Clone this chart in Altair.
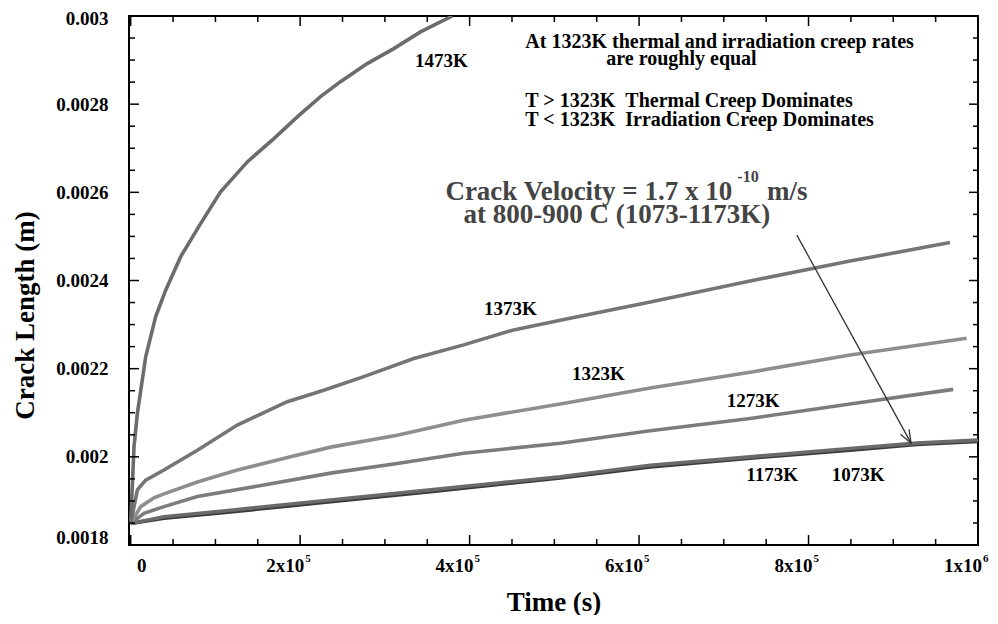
import altair as alt
import pandas as pd

FONT = "Liberation Serif"

# ---------------- data ----------------
series_names = ["1073K", "1173K", "1273K", "1323K", "1373K", "1473K"]
series_colors = ["#3a3a3a", "#6a6a6a", "#7c7c7c", "#8e8e8e", "#757575", "#6c6c6c"]

t_1473 = [0, 3900, 7900, 17700, 29500, 41300, 59000, 82500, 106100, 137600,
          169000, 196600, 224000, 247600, 279100, 310500, 342000, 379700]
v_1473 = [0.001849, 0.002023, 0.002099, 0.002227, 0.002318, 0.002378, 0.002454,
          0.002529, 0.002601, 0.002669, 0.002722, 0.002771, 0.002817, 0.002851,
          0.002892, 0.002926, 0.002964, 0.003000]

t_1373 = [0, 7900, 17700, 39300, 78700, 125800, 184800, 227900, 275100, 334100,
          393000, 452000, 507000, 613200, 731100, 849000, 966900]
v_1373 = [0.001849, 0.001925, 0.001947, 0.001970, 0.002015, 0.002072, 0.002125,
          0.002151, 0.002182, 0.002223, 0.002254, 0.002288, 0.002310, 0.002351,
          0.002399, 0.002444, 0.002486]

t_1323 = [0, 11800, 27500, 39300, 78700, 125800, 188700, 235900, 314500, 393000,
          507000, 613200, 731100, 849000, 986600]
v_1323 = [0.001849, 0.001887, 0.001907, 0.001916, 0.001943, 0.001970, 0.002000,
          0.002022, 0.002049, 0.002083, 0.002120, 0.002156, 0.002192, 0.002231,
          0.002269]

t_1273 = [0, 15700, 39300, 78700, 157200, 235900, 314500, 393000, 507000, 613200,
          731100, 849000, 970800]
v_1273 = [0.001849, 0.001872, 0.001887, 0.001910, 0.001936, 0.001963, 0.001985,
          0.002008, 0.002031, 0.002059, 0.002087, 0.002120, 0.002153]

t_1173 = [0, 39300, 117900, 235800, 353800, 507000, 613200, 731100, 849000,
          927700, 1000000]
v_1173 = [0.001849, 0.001864, 0.001879, 0.001902, 0.001925, 0.001955, 0.001981,
          0.002000, 0.002019, 0.002031, 0.002038]

t_1073 = [0, 39300, 117900, 235800, 353800, 507000, 613200, 731100, 849000,
          927700, 1000000]
v_1073 = [0.001849, 0.001861, 0.001875, 0.001898, 0.001921, 0.001952, 0.001977,
          0.001997, 0.002015, 0.002028, 0.002035]

# curve labels
lab_text = ["1473K", "1373K", "1323K", "1273K", "1173K", "1073K"]
lab_t = [366700, 448100, 551900, 734600, 757000, 858500]
lab_v = [0.0028846, 0.0023215, 0.0021742, 0.0021122, 0.0019458, 0.0019458]

# notes (top right)
note_text = ["At 1323K thermal and irradiation creep rates",
             "are roughly equal",
             "T > 1323K\u00a0\u00a0Thermal Creep Dominates",
             "T < 1323K\u00a0\u00a0Irradiation Creep Dominates"]
note_t = [465800, 561300, 465800, 465800]
note_v = [0.0029263, 0.0028884, 0.0027925, 0.0027501]

# velocity annotation
vel_text = ["Crack Velocity = 1.7 x 10", "m/s", "at 800-900 C (1073-1173K)"]
vel_t = [371400, 750900, 392700]
vel_v = [0.0025823, 0.0025823, 0.0025302]
sup_text = ["-10"]
sup_t = [716000]
sup_v = [0.0026231]

# arrow
arrow_t = [786200, 921000]
arrow_v = [0.002503, 0.002031]

# axes
y_major = [0.0018, 0.002, 0.0022, 0.0024, 0.0026, 0.0028, 0.003]
y_minor = [0.00185, 0.0019, 0.00195, 0.00205, 0.0021, 0.00215, 0.00225, 0.0023,
           0.00235, 0.00245, 0.0025, 0.00255, 0.00265, 0.0027, 0.00275, 0.00285,
           0.0029, 0.00295]
x_major = [0, 200000, 400000, 600000, 800000, 1000000]
x_minor = [50000, 100000, 150000, 250000, 300000, 350000, 450000, 500000, 550000,
           650000, 700000, 750000, 850000, 900000, 950000]
x_lab_base = ["2x10", "4x10", "6x10", "8x10", "1x10"]
x_lab_exp = ["5", "5", "5", "5", "6"]
x_lab_vals = [200000, 400000, 600000, 800000, 1000000]
x_zero_lab = ["0"]
x_zero_val = [0]

# ---------------- chart ----------------
W, H = 849, 529
xs = alt.Scale(domain=[-2000, 1000000], nice=False, zero=False)
ys = alt.Scale(domain=[0.0018, 0.003], nice=False, zero=False)

rows = []
for name, ts, vs in [("1073K", t_1073, v_1073), ("1173K", t_1173, v_1173),
                     ("1273K", t_1273, v_1273), ("1323K", t_1323, v_1323),
                     ("1373K", t_1373, v_1373), ("1473K", t_1473, v_1473)]:
    for t, v in zip(ts, vs):
        rows.append({"series": name, "t": t, "v": v})
df = pd.DataFrame(rows)

x_axis = alt.Axis(values=[0], labels=False, ticks=False, domain=False, grid=False,
                  title="Time (s)", titleFont=FONT, titleFontSize=27,
                  titleFontWeight="bold", titleColor="black", titleY=65,
                  titleBaseline="alphabetic")
y_axis = alt.Axis(values=y_major, format=".4~f", labelFont=FONT, labelFontSize=19,
                  labelFontWeight="bold", labelColor="black", labelPadding=21,
                  labelBaseline="middle", labelOverlap=False,
                  labelOffset={"condition": [
                      {"test": "datum.value < 0.00181", "value": -8},
                      {"test": "datum.value > 0.00299", "value": 2}], "value": 0},
                  ticks=False, tickSize=0, domain=False, grid=False,
                  title="Crack Length (m)", titleFont=FONT, titleFontSize=27,
                  titleFontWeight="bold", titleColor="black", titleAngle=270,
                  titleX=-96, titleY=299, titleAlign="center",
                  titleBaseline="alphabetic")


def X(field="t"):
    return alt.X(f"{field}:Q", scale=xs, axis=x_axis)


def Y(field="v"):
    return alt.Y(f"{field}:Q", scale=ys, axis=y_axis)


lines = alt.Chart(df).mark_line(strokeWidth=3.6, clip=True).encode(
    x=X(), y=Y(),
    color=alt.Color("series:N", scale=alt.Scale(domain=series_names, range=series_colors),
                    legend=None),
)


def yrules(vals, a, b):
    return alt.Chart(pd.DataFrame({"v": vals})).mark_rule(color="black", strokeWidth=1.5).encode(
        y=Y(), x=alt.value(a), x2=alt.value(b))


def xrules(vals, a, b):
    return alt.Chart(pd.DataFrame({"t": vals})).mark_rule(color="black", strokeWidth=1.5).encode(
        x=X(), y=alt.value(a), y2=alt.value(b))


ticks = [
    yrules(y_major, 0, 10), yrules(y_minor, 0, 6),
    yrules(y_major, W, W - 9), yrules(y_minor, W, W - 5),
    xrules(x_major, H, H - 10), xrules(x_minor, H, H - 6),
    xrules(x_major, 0, 10), xrules(x_minor, 0, 6),
]

xlab_df = pd.DataFrame({"t": x_lab_vals, "base": x_lab_base, "exp": x_lab_exp})
xlab_base = alt.Chart(xlab_df).mark_text(
    font=FONT, fontSize=19, fontWeight="bold", color="black", align="right",
    baseline="alphabetic", dx=4).encode(
    x=X(), y=alt.value(H + 27), text="base:N")
xlab_exp = alt.Chart(xlab_df).mark_text(
    font=FONT, fontSize=11, fontWeight="bold", color="black", align="left",
    baseline="alphabetic", dx=5).encode(
    x=X(), y=alt.value(H + 17), text="exp:N")
xlab_zero = alt.Chart(pd.DataFrame({"t": x_zero_val, "s": x_zero_lab})).mark_text(
    font=FONT, fontSize=19, fontWeight="bold", color="black", align="center",
    baseline="alphabetic", dx=11).encode(
    x=X(), y=alt.value(H + 27), text="s:N")

lab_layer = alt.Chart(pd.DataFrame({"t": lab_t, "v": lab_v, "s": lab_text})).mark_text(
    font=FONT, fontSize=19, fontWeight="bold", color="black", align="center",
    baseline="alphabetic").encode(x=X(), y=Y(), text="s:N")

note_layer = alt.Chart(pd.DataFrame({"t": note_t, "v": note_v, "s": note_text})).mark_text(
    font=FONT, fontSize=20, fontWeight="bold", color="black", align="left",
    baseline="alphabetic").encode(x=X(), y=Y(), text="s:N")

vel_layer = alt.Chart(pd.DataFrame({"t": vel_t, "v": vel_v, "s": vel_text})).mark_text(
    font=FONT, fontSize=27, fontWeight="bold", color="#444444", align="left",
    baseline="alphabetic").encode(x=X(), y=Y(), text="s:N")

sup_layer = alt.Chart(pd.DataFrame({"t": sup_t, "v": sup_v, "s": sup_text})).mark_text(
    font=FONT, fontSize=16, fontWeight="bold", color="#444444", align="left",
    baseline="alphabetic").encode(x=X(), y=Y(), text="s:N")

arrow_df = pd.DataFrame({"t": arrow_t, "v": arrow_v})
arrow_line = alt.Chart(arrow_df).mark_line(color="#333333", strokeWidth=1.3).encode(
    x=X(), y=Y())
arrow_head = alt.Chart(arrow_df.iloc[[1]]).mark_point(
    shape="M-0.45,-1.2L0,0L0.45,-1.2", filled=False, stroke="#333333",
    strokeWidth=1.3, size=470, angle=331, opacity=1).encode(x=X(), y=Y())

chart = alt.layer(
    lines, *ticks, xlab_base, xlab_exp, xlab_zero, lab_layer, note_layer,
    vel_layer, sup_layer, arrow_line, arrow_head
).properties(
    width=W, height=H,
    padding={"left": 121, "top": 8, "right": 12, "bottom": 70},
    autosize=alt.AutoSizeParams(type="none"),
).configure_view(stroke="black", strokeWidth=2)

chart.save("out.html", embed_options={"renderer": "svg", "actions": False})
